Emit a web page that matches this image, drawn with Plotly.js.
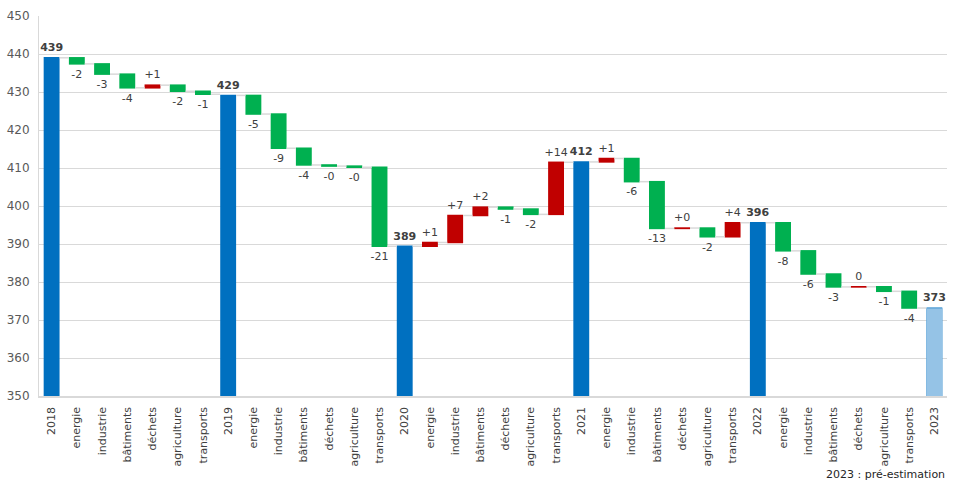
<!DOCTYPE html>
<html>
<head>
<meta charset="utf-8">
<script src="https://cdn.plot.ly/plotly-3.0.1.min.js"></script>
<style>
html,body{margin:0;padding:0;background:#fff;}
#chart{width:959px;height:489px;}
</style>
</head>
<body>
<div id="chart"></div>
<script>
// Categories (in order along the axis)
var categories = [
  "2018","energie","industrie","bâtiments","déchets","agriculture","transports",
  "2019","energie","industrie","bâtiments","déchets","agriculture","transports",
  "2020","energie","industrie","bâtiments","déchets","agriculture","transports",
  "2021","energie","industrie","bâtiments","déchets","agriculture","transports",
  "2022","energie","industrie","bâtiments","déchets","agriculture","transports",
  "2023"
];
// measure: absolute = yearly total, relative = sector change
var measures = [
  "absolute","relative","relative","relative","relative","relative","relative",
  "absolute","relative","relative","relative","relative","relative","relative",
  "absolute","relative","relative","relative","relative","relative","relative",
  "absolute","relative","relative","relative","relative","relative","relative",
  "absolute","relative","relative","relative","relative","relative","relative",
  "absolute"
];
// values (Mt CO2e)
var values = [
  439.0, -1.6, -2.7, -3.6, 0.7, -1.6, -0.8,
  429.1, -4.9, -9.0, -4.4, -0.3, -0.3, -20.8,
  389.4, 1.0, 7.1, 2.2, -0.5, -1.4, 13.7,
  411.6, 0.9, -6.1, -12.3, 0.1, -2.3, 3.7,
  395.6, -7.4, -6.1, -3.4, 0.05, -1.2, -4.4,
  373.1
];
// data labels as printed
var labels = [
  "439","-2","-3","-4","+1","-2","-1",
  "429","-5","-9","-4","-0","-0","-21",
  "389","+1","+7","+2","-1","-2","+14",
  "412","+1","-6","-13","+0","-2","+4",
  "396","-8","-6","-3","0","-1","-4",
  "373"
];
var estimateYear = "2023";

var xIdx = categories.map(function(c,i){return i;});
var lastIdx = categories.length - 1;
var shownText = labels.map(function(t,i){
  return measures[i] === "absolute" ? "<b>" + t + "</b>" : t;
});

var wf = {
  type: "waterfall",
  x: xIdx,
  y: values,
  measure: measures,
  text: shownText,
  textposition: "outside",
  constraintext: "none",
  textfont: {family: "DejaVu Sans, sans-serif", size: 11, color: "#404040"},
  cliponaxis: false,
  width: 0.63,
  connector: {mode: "between", line: {color: "#d9d9d9", width: 1.5}},
  increasing: {marker: {color: "#c00000"}},
  decreasing: {marker: {color: "#00b050"}},
  totals: {marker: {color: "#0070c0"}},
  hoverinfo: "none"
};

var est = {
  type: "bar",
  x: [lastIdx],
  y: [values[lastIdx]],
  width: 0.63,
  marker: {color: "#95c3e6"},
  hoverinfo: "none",
  showlegend: false
};

var layout = {
  width: 959, height: 489,
  margin: {l: 39, r: 12, t: 16, b: 93},
  paper_bgcolor: "#ffffff",
  plot_bgcolor: "#ffffff",
  showlegend: false,
  font: {family: "DejaVu Sans, sans-serif", size: 12, color: "#404040"},
  xaxis: {
    range: [-0.5, lastIdx + 0.5],
    tickmode: "array",
    tickvals: xIdx,
    ticktext: categories,
    tickangle: -90,
    tickfont: {family: "DejaVu Sans, sans-serif", size: 11, color: "#404040"},
    ticks: "",
    ticklabelstandoff: 5,
    showgrid: false,
    zeroline: false,
    showline: true,
    linecolor: "#d9d9d9",
    linewidth: 1.5
  },
  yaxis: {
    range: [350, 450],
    dtick: 10,
    tick0: 350,
    gridcolor: "#d9d9d9",
    gridwidth: 1,
    tickfont: {family: "DejaVu Sans, sans-serif", size: 12, color: "#595959"},
    ticks: "",
    ticklabelstandoff: 6,
    zeroline: false,
    showline: true,
    linecolor: "#d9d9d9",
    linewidth: 1
  },
  annotations: [{
    xref: "paper", yref: "paper",
    x: 1, y: 0, xanchor: "right", yanchor: "top",
    yshift: -70,
    text: estimateYear + " : pré-estimation",
    showarrow: false,
    font: {family: "DejaVu Sans, sans-serif", size: 11, color: "#262626"}
  }]
};

Plotly.newPlot("chart", [wf, est], layout, {displayModeBar: false, staticPlot: true});
</script>
</body>
</html>
